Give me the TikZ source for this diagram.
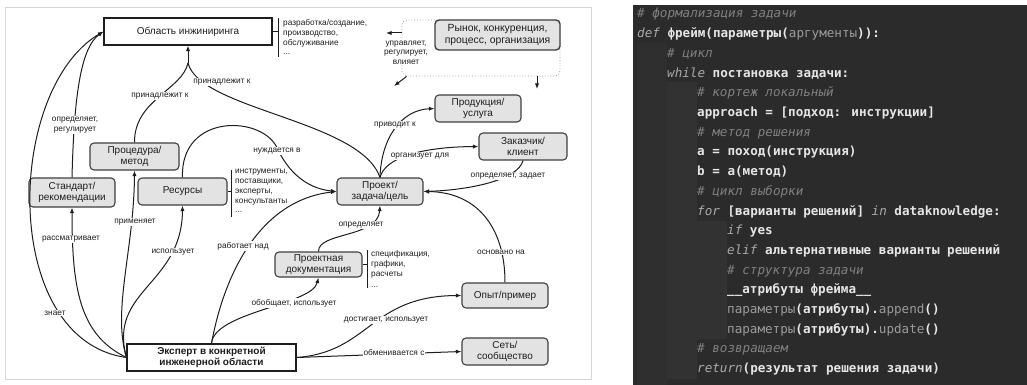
\documentclass[tikz,border=0pt]{standalone}
\usepackage{fontspec}
\setmainfont{Liberation Sans}
\newfontfamily\codefont{DejaVu Sans Mono}
\usetikzlibrary{arrows.meta}

\definecolor{ink}{HTML}{1E1E1E}
\definecolor{boxfill}{HTML}{E3E3E3}
\definecolor{panelline}{HTML}{D6D6D6}
\definecolor{editorbg}{HTML}{2B2B2B}
\definecolor{indentA}{HTML}{2F2F2F}
\definecolor{indentB}{HTML}{323232}
\definecolor{cmtcol}{HTML}{808080}
\definecolor{kwcol}{HTML}{A9A9A9}
\definecolor{txtcol}{HTML}{E6E6E6}
\definecolor{dimcol}{HTML}{9C9C9C}

% code highlighting helpers
\newcommand\cdcomment[1]{{\itshape\mdseries\color{cmtcol}#1}}
\newcommand\cdkw[1]{{\itshape\mdseries\color{kwcol}#1}}
\newcommand\cddim[1]{{\mdseries\color{dimcol}#1}}

\tikzset{
  gbox/.style={draw=ink!85, line width=1.1pt, rounded corners=4pt, fill=boxfill,
    align=center, text=ink, inner sep=1pt,
    font=\fontsize{10}{11}\selectfont},
  wbox/.style={draw=ink, line width=1.1pt, fill=white, align=center, text=ink,
    inner sep=1pt, font=\fontsize{10}{11}\selectfont},
  lbl/.style={fill=white, inner sep=0.8pt, text=ink,
    font=\fontsize{8.3}{9.6}\selectfont},
  note/.style={anchor=north west, align=left, inner sep=0pt, text=ink,
    font=\fontsize{8.3}{10}\selectfont},
  conn/.style={line width=1pt, draw=ink},
  arr/.style={conn, -{Latex[length=5.5pt,width=4.2pt]}},
  mkt/.style={draw=ink!45, line width=0.8pt, dotted, rounded corners=5pt,
    minimum width=158pt, minimum height=56pt, inner sep=0pt},
  code/.style={anchor=base west, inner sep=0pt, text=txtcol,
    font=\codefont\bfseries\fontsize{12.6}{14}\selectfont},
}

\begin{document}
\begin{tikzpicture}[x=1pt,y=-1pt]
\useasboundingbox (0,0) rectangle (1027,385);
\fill[white] (0,0) rectangle (1027,385);

% ---------- concept map ----------
\draw[panelline, line width=1pt] (5,8) rectangle (591,379);

\node[mkt] (mframe) at (481,48) {};

\node[wbox, minimum width=168pt, minimum height=27pt] (area) at (188,31.5) {Область инжиниринга};
\node[gbox, line width=1.4pt, minimum width=125pt, minimum height=30pt, font=\fontsize{10.4}{11.4}\selectfont] (market) at (497.5,35) {Рынок, конкуренция,\\процесс, организация};
\node[gbox, minimum width=86pt, minimum height=27pt] (prod) at (478,108.5) {Продукция/\\услуга};
\node[gbox, minimum width=88pt, minimum height=27pt] (cust) at (523,146.5) {Заказчик/\\клиент};
\node[gbox, minimum width=86pt, minimum height=27pt] (proj) at (380,191.5) {Проект/\\задача/цель};
\node[gbox, minimum width=89pt, minimum height=27pt] (res) at (182.5,191.5) {Ресурсы};
\node[gbox, minimum width=89pt, minimum height=27pt] (proc) at (134.5,156.5) {Процедура/\\метод};
\node[gbox, minimum width=86pt, minimum height=29pt] (std) at (72,192.5) {Стандарт/\\рекомендации};
\node[gbox, minimum width=87pt, minimum height=25pt] (doc) at (318.5,264.5) {Проектная\\документация};
\node[gbox, minimum width=86pt, minimum height=25pt] (opyt) at (505,295.5) {Опыт/пример};
\node[gbox, minimum width=86pt, minimum height=27pt] (net) at (505,351.5) {Сеть/\\сообщество};
\node[wbox, minimum width=169pt, minimum height=27pt, font=\bfseries\fontsize{10}{11}\selectfont] (expert) at (211.5,357.5) {Эксперт в конкретной\\инженерной области};

% brackets with lists
\draw[conn] (area.east) -- (278,31.5);
\draw[conn] (278,18) -- (278,57);
\node[note] (arealist) at (283,19) {разработка/создание,\\производство,\\обслуживание\\[-1pt]...};
\draw[conn] (res.east) -- (231,191.5);
\draw[conn] (231,170) -- (231,217);
\node[note] (reslist) at (235,168.5) {инструменты,\\поставщики,\\эксперты,\\консультанты\\[-1pt]...};
\draw[conn] (doc.east) -- (367,264.5);
\draw[conn] (367,250) -- (367,288);
\node[note] (doclist) at (371,250.5) {спецификация,\\графики,\\расчеты\\[1pt]...};

% market influence arrows
\coordinate (mkA) at (386,33);
\coordinate (mkB) at (394,86);
\coordinate (mkC) at (537,89);
\draw[arr] ([yshift=15pt]mframe.west) -- (mkA);
\draw[arr] ([xshift=5pt]mframe.south west) -- (mkB);
\draw[arr] (mframe.south -| mkC) -- (mkC);

% connectors
\draw[arr] (expert.west) .. controls (0,340) and (5,90) .. (area.west);
\draw[arr] (std.north) .. controls (74,100) and (80,48) .. (area.west);
\draw[arr] (expert.west) .. controls (80,335) and (72,290) .. (std.south);
\draw[arr] (expert.west) .. controls (112,310) and (134,250) .. (proc.south);
\draw[arr] (expert.west) .. controls (108,290) and (182,285) .. (res.south);
\draw[arr] (res.north) .. controls (180,112) and (265,115) .. (278,150) .. controls (292,178) and (312,189) .. (proj.west);
\draw[arr] (expert.north) .. controls (225,270) and (262,200) .. (proj.west);
\draw[arr] (expert.north) .. controls (214,312) and (312,305) .. (doc.south);
\draw[arr] (doc.north) .. controls (318,232) and (378,238) .. (proj.south);
\draw[arr] (proj.north) .. controls (381,140) and (400,110) .. (prod.west);
\draw[arr] (proj.north) .. controls (385,158) and (420,147) .. (cust.west);
\draw[arr] (cust.south) .. controls (518,180) and (470,190) .. (proj.east);
\draw[arr] (opyt.north) .. controls (505,225) and (475,192) .. (proj.east);
\draw[arr] (expert.east) .. controls (370,352) and (370,296) .. (opyt.west);
\draw[arr] (expert.east) -- (net.west);
\coordinate (join) at (188,63);
\draw[conn] (proc.north) .. controls (134,100) and (182,90) .. (join);
\draw[conn] (proj.north) .. controls (360,120) and (200,110) .. (join);
\draw[arr] (join) -- (area.south);

% connector labels
\node[lbl] (l1) at (160,96) {принадлежит к};
\node[lbl] (l2) at (222,82) {принадлежит к};
\node[lbl, align=center] (l3) at (75,125) {определяет,\\регулирует};
\node[lbl, align=center, font=\fontsize{8.3}{9.4}\selectfont] (l4) at (406,52.5) {управляет,\\регулирует,\\влияет};
\node[lbl] (l5) at (395,125) {приводит к};
\node[lbl] (l6) at (420,156) {организует для};
\node[lbl] (l7) at (508,176) {определяет, задает};
\node[lbl] (l8) at (277,151) {нуждается в};
\node[lbl] (l9) at (135,222) {применяет};
\node[lbl] (l10) at (71,239) {рассматривает};
\node[lbl] (l11) at (173,252) {использует};
\node[lbl] (l12) at (243,246) {работает над};
\node[lbl] (l13) at (361,225) {определяет};
\node[lbl] (l14) at (501,252) {основано на};
\node[lbl] (l15) at (294,303) {обобщает, использует};
\node[lbl] (l16) at (386,320) {достигает, использует};
\node[lbl] (l17) at (394,352) {обменивается с};
\node[lbl] (l18) at (55,313) {знает};

% ---------- code editor ----------
\fill[editorbg] (633,5) rectangle (1027,385);
\fill[indentA] (637,43) rectangle (667,385);
\fill[indentB] (667,82) rectangle (697,379);
\fill[indentB] (697,221) rectangle (727,339);

\node[code] (c0)  at (637,18)    {\cdcomment{\# формализация задачи}};
\node[code] (c1)  at (637,37.7)  {\cdkw{def} фрейм(параметры(\cddim{аргументы})):};
\node[code] (c2)  at (667,57.4)  {\cdcomment{\# цикл}};
\node[code] (c3)  at (667,77.1)  {\cdkw{while} постановка задачи:};
\node[code] (c4)  at (697,96.8)  {\cdcomment{\# кортеж локальный}};
\node[code] (c5)  at (697,116.5) {approach = [подход: инструкции]};
\node[code] (c6)  at (697,136.2) {\cdcomment{\# метод решения}};
\node[code] (c7)  at (697,155.9) {a = поход(инструкция)};
\node[code] (c8)  at (697,175.6) {b = a(метод)};
\node[code] (c9)  at (697,195.3) {\cdcomment{\# цикл выборки}};
\node[code] (c10) at (697,215)   {\cdkw{for} [варианты решений] \cdkw{in} dataknowledge:};
\node[code] (c11) at (727,234.7) {\cdkw{if} yes};
\node[code] (c12) at (727,254.4) {\cdkw{elif} альтернативные варианты решений};
\node[code] (c13) at (727,274.1) {\cdcomment{\# структура задачи}};
\node[code] (c14) at (727,293.8) {\_\_атрибуты фрейма\_\_};
\node[code] (c15) at (727,313.5) {\cddim{параметры}(атрибуты).\cddim{append}()};
\node[code] (c16) at (727,333.2) {\cddim{параметры}(атрибуты).\cddim{update}()};
\node[code] (c17) at (697,352.9) {\cdcomment{\# возвращаем}};
\node[code] (c18) at (697,372.6) {\cdkw{return}(результат решения задачи)};
\end{tikzpicture}
\end{document}
